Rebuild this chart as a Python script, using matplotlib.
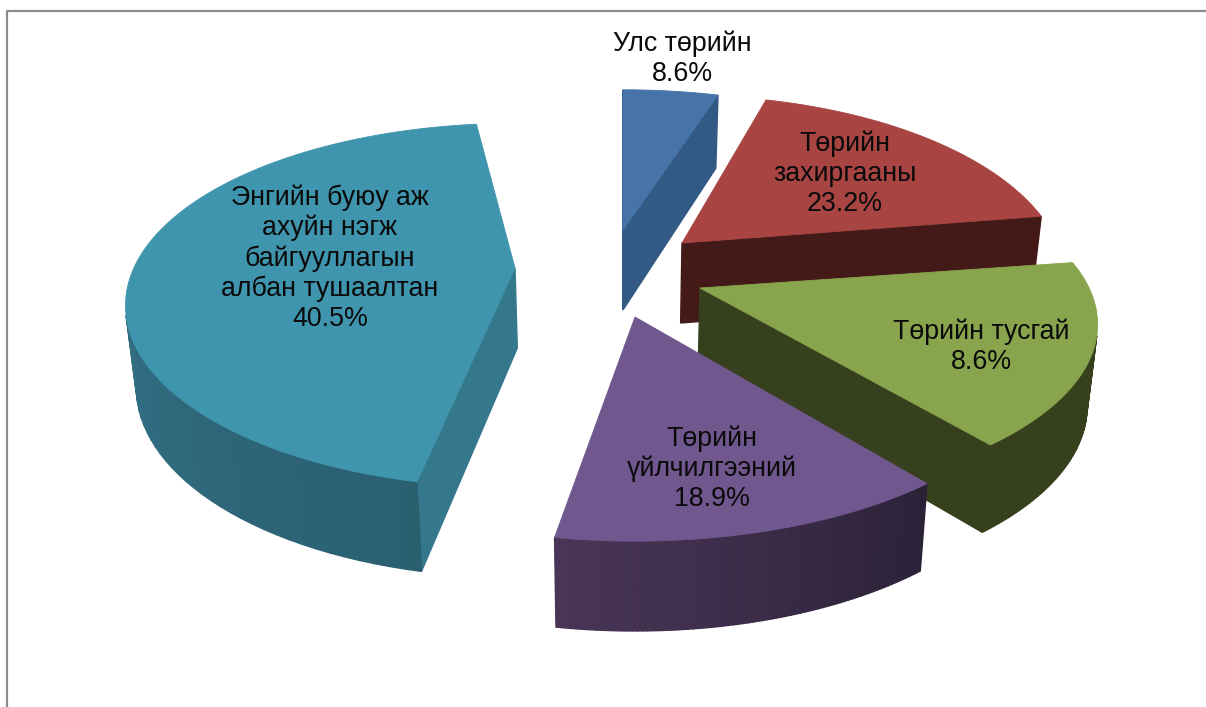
import numpy as np
import matplotlib
matplotlib.use("Agg")
import matplotlib.pyplot as plt
from matplotlib.patches import Polygon

plt.rcParams["font.family"] = ["Liberation Sans", "DejaVu Sans"]

# printed labels
names = ["Улс төрийн", "Төрийн\nзахиргааны", "Төрийн тусгай", "Төрийн\nүйлчилгээний",
         "Энгийн буюу аж\nахуйн нэгж\nбайгууллагын\nалбан тушаалтан"]
percents = [8.6, 23.2, 8.6, 18.9, 40.5]
# slice sizes as they look in the picture, they do not follow the printed percents
shares = [4.6, 18.2, 16.7, 12.9, 47.6]

# layout, one per slice
apex_x = [623, 682, 700, 635, 515]
apex_y = [230, 243, 288, 317, 268]
scale_x = [0.97, 0.95, 0.985, 1.0, 0.965]
scale_y = [0.95, 1.0, 0.95, 1.0, 0.98]
trim_start = [1, 0, 0, 0.5, 4.2]
trim_end = [-1.7, 0, 0, -1.7, 6]
top_col = ["#4674a8", "#a84543", "#88a44d", "#70578d", "#4095ae"]
radial_col = ["#335a85", "#431a18", "#37401d", "#4a3557", "#35788c"]
wall_a = ["#335a85", "#431a18", "#37401d", "#2b2238", "#2a5f70"]
wall_b = ["#335a85", "#431a18", "#37401d", "#4a3557", "#3c87a0"]
label_x = [682, 845, 981, 712, 330]
label_y = [59, 174, 347, 468.5, 258]
draw_order = [0, 4, 1, 2, 3]

start_angle = -1
rx, ry = 395, 178
persp = 0.206
depth = 80
lean = 0.022
mid_x = 620


def top_point(i, deg):
    t = np.radians(deg)
    u, v = np.sin(t), np.cos(t)
    p = 1 / (1 + persp * v)
    return apex_x[i] + rx * scale_x[i] * u * p, apex_y[i] - ry * scale_y[i] * v * p, p


def bottom(pt):
    x, y, p = pt
    return x + (mid_x - x) * lean, y + depth * np.sqrt(p)


def wall(ax, a, b, col):
    q = [a[:2], b[:2], bottom(b), bottom(a)]
    xs = [c[0] for c in q]
    ys = [c[1] for c in q]
    area = sum(xs[k] * ys[(k + 1) % 4] - xs[(k + 1) % 4] * ys[k] for k in range(4))
    if area < 0:
        ax.add_patch(Polygon(q, closed=True, fc=col, ec=col, lw=1.0))


fig = plt.figure(figsize=(12.06, 7.07), dpi=100)
ax = fig.add_axes([0, 0, 1, 1])
ax.set_xlim(0, 1206)
ax.set_ylim(707, 0)
ax.axis("off")

# frame
ax.plot([6.5, 6.5, 1206], [707, 10.5, 10.5], color="#8c8c8c", lw=1.6)

degs = np.array(shares) / sum(shares) * 360
edges = start_angle + np.concatenate([[0], np.cumsum(degs)])

for i in draw_order:
    th = np.linspace(edges[i] + trim_start[i], edges[i + 1] - trim_end[i], 80)
    arc = [top_point(i, d) for d in th]
    apex = (apex_x[i], apex_y[i], 1.0)
    c0 = np.array(matplotlib.colors.to_rgb(wall_a[i]))
    c1 = np.array(matplotlib.colors.to_rgb(wall_b[i]))
    wall(ax, apex, arc[0], radial_col[i])
    wall(ax, arc[-1], apex, radial_col[i])
    for k in range(len(arc) - 1):
        wall(ax, arc[k], arc[k + 1], tuple(c0 + (c1 - c0) * k / (len(arc) - 2)))
    face = [apex[:2]] + [a[:2] for a in arc]
    ax.add_patch(Polygon(face, closed=True, fc=top_col[i], ec=top_col[i], lw=0.6))

for i in range(len(names)):
    ax.text(label_x[i], label_y[i], names[i] + "\n" + str(percents[i]) + "%",
            ha="center", va="center", fontsize=19.3, color="#0a0a0a", linespacing=1.19)

fig.savefig("out.png", dpi=100)
